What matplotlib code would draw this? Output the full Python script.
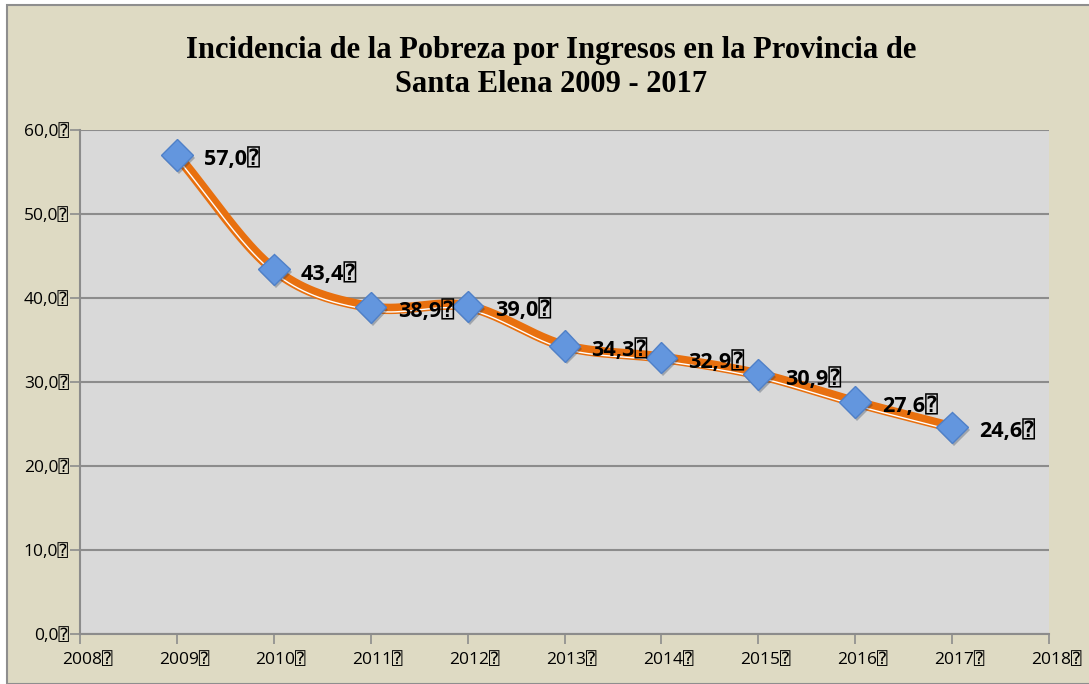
import numpy as np
import matplotlib
matplotlib.use("Agg")
import matplotlib.pyplot as plt
import matplotlib.transforms as mtransforms
import matplotlib.patheffects as pe
from matplotlib.patches import Rectangle

years = [2009, 2010, 2011, 2012, 2013, 2014, 2015, 2016, 2017]
values = [57.0, 43.4, 38.9, 39.0, 34.3, 32.9, 30.9, 27.6, 24.6]
labels = ["57,0⍰", "43,4⍰", "38,9⍰", "39,0⍰", "34,3⍰", "32,9⍰", "30,9⍰", "27,6⍰", "24,6⍰"]
x_ticks = list(range(2008, 2019))
x_ticklabels = [f"{y}⍰" for y in x_ticks]
y_ticks = [0, 10, 20, 30, 40, 50, 60]
y_ticklabels = ["0,0⍰", "10,0⍰", "20,0⍰", "30,0⍰", "40,0⍰", "50,0⍰", "60,0⍰"]
title_lines = ["Incidencia de la Pobreza por Ingresos en la Provincia de",
               "Santa Elena 2009 - 2017"]

W, H = 1089, 684
fig = plt.figure(figsize=(W / 100, H / 100), dpi=100)
fig.patch.set_facecolor("white")
fig.patches.append(Rectangle((7 / W, 0), 1.1, (H - 5) / H, transform=fig.transFigure,
                             facecolor="#DEDAC3", edgecolor="#8E8E8E", linewidth=1.5, zorder=-10))

ax = fig.add_axes([80 / W, 1 - 634 / H, (1049 - 80) / W, (634 - 130) / H])
ax.set_facecolor("#D9D9D9")
ax.set_xlim(2008, 2018)
ax.set_ylim(0, 60)

for s in ["top", "right"]:
    ax.spines[s].set_visible(False)
for s in ["left", "bottom"]:
    ax.spines[s].set_color("#8C8C8C")
    ax.spines[s].set_linewidth(1.5)

tick_family = ["Open Sans", "DejaVu Sans Mono"]
ax.set_yticks(y_ticks)
ax.set_yticklabels(y_ticklabels, family=tick_family, fontsize=12.5)
ax.set_xticks(x_ticks)
ax.set_xticklabels(x_ticklabels, family=tick_family, fontsize=12.5)
ax.tick_params(axis="both", colors="#8C8C8C", labelcolor="black", length=7, width=1.2)
ax.tick_params(axis="x", pad=6)
ax.tick_params(axis="y", pad=1)
shift = mtransforms.ScaledTranslation(7 / 100, 0, fig.dpi_scale_trans)
for lab in ax.get_xticklabels():
    lab.set_transform(lab.get_transform() + shift)
ax.yaxis.grid(True, color="#8C8C8C", linewidth=1.5)
ax.set_axisbelow(True)

# Catmull-Rom smoothing (drawing only)
xs = np.array(years, dtype=float)
ys = np.array(values, dtype=float)
px = np.concatenate([[2 * xs[0] - xs[1]], xs, [2 * xs[-1] - xs[-2]]])
py = np.concatenate([[2 * ys[0] - ys[1]], ys, [2 * ys[-1] - ys[-2]]])
cx, cy = [], []
t = np.linspace(0, 1, 40)
for i in range(1, len(px) - 2):
    p0, p1, p2, p3 = [np.array([px[j], py[j]]) for j in range(i - 1, i + 3)]
    for tt in t:
        pt = 0.5 * ((2 * p1) + (-p0 + p2) * tt + (2 * p0 - 5 * p1 + 4 * p2 - p3) * tt ** 2
                    + (-p0 + 3 * p1 - 3 * p2 + p3) * tt ** 3)
        cx.append(pt[0]); cy.append(pt[1])
cx = np.array(cx); cy = np.array(cy)

ax.plot(cx, cy, color="#E8700F", linewidth=7.5, solid_capstyle="round", zorder=3)
off = mtransforms.offset_copy(ax.transData, fig=fig, x=0, y=-2.2, units="points")
ax.plot(cx, cy, color="white", linewidth=1.0, transform=off, zorder=4)

ax.plot(xs, ys, linestyle="none", marker="D", markersize=16, markerfacecolor="#6396DE",
        markeredgecolor="#4F80C8", markeredgewidth=1.0, zorder=5,
        path_effects=[pe.SimplePatchShadow(offset=(1.5, -2), alpha=0.3), pe.Normal()])

for x, y, lab in zip(years, values, labels):
    ax.annotate(lab, (x, y), xytext=(19.5, -3), textcoords="offset points",
                ha="left", va="center", fontsize=15.5, fontweight="bold",
                family=["Open Sans", "DejaVu Sans Mono"], zorder=6)

fig.text(551 / W, 1 - 58 / H, title_lines[0], ha="center", va="baseline", fontsize=22,
         fontweight="bold", family="Liberation Serif")
fig.text(551 / W, 1 - 92 / H, title_lines[1], ha="center", va="baseline", fontsize=22,
         fontweight="bold", family="Liberation Serif")

fig.savefig("out.png", dpi=100)
